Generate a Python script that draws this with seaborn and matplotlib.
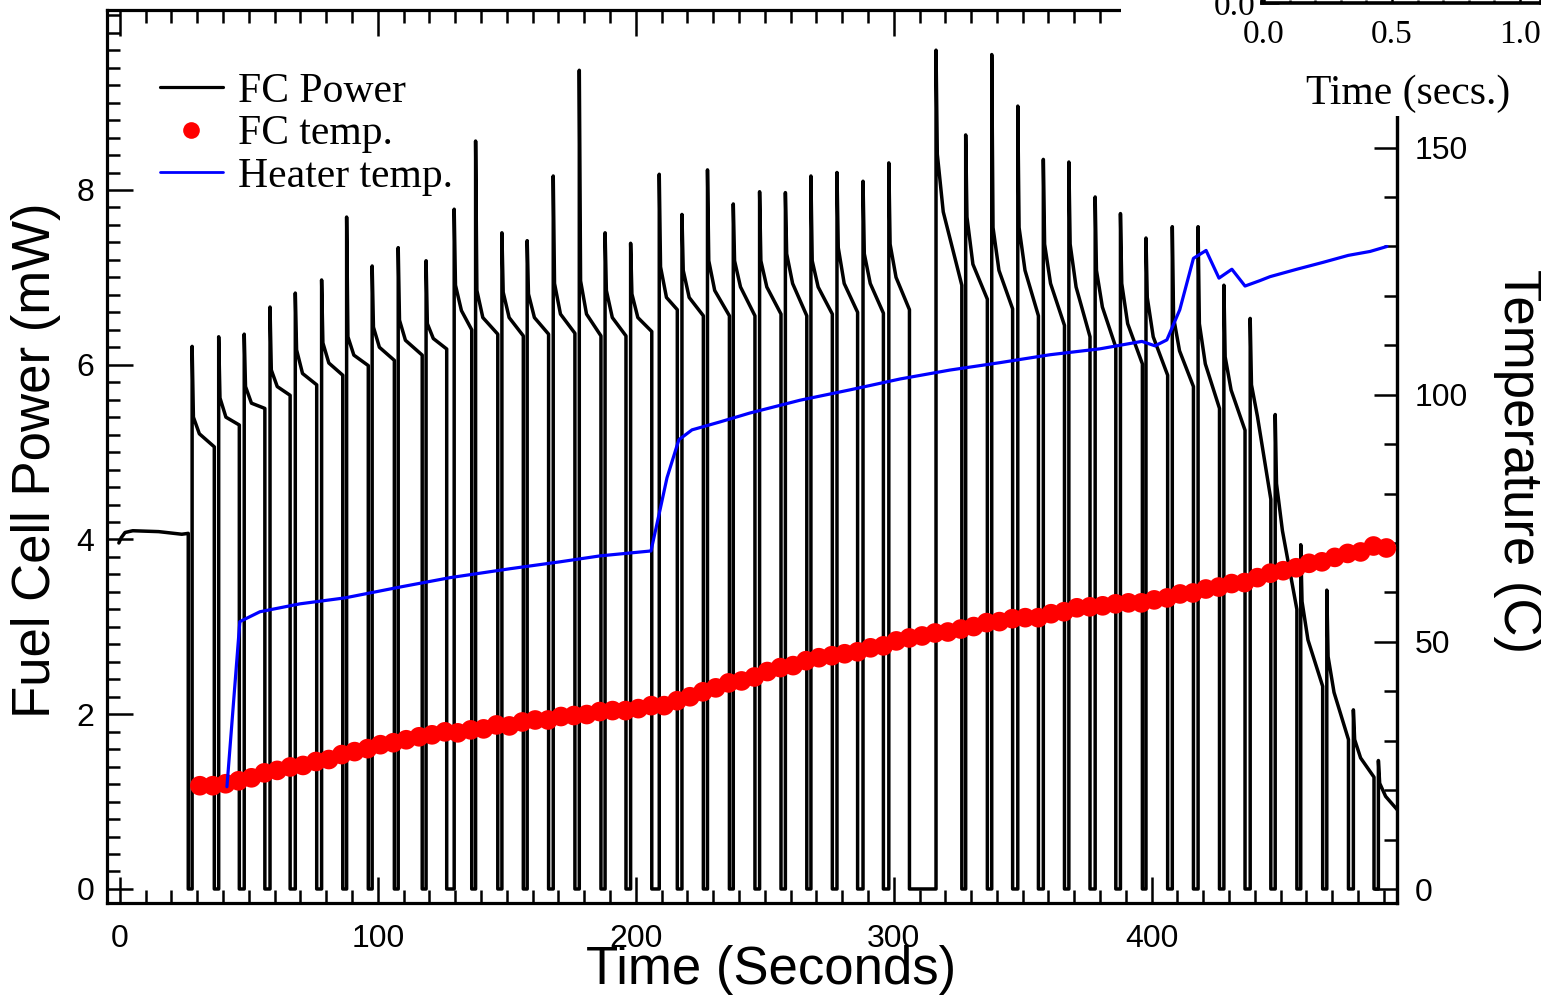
import numpy as np
import pandas as pd
import matplotlib
matplotlib.use("Agg")
import matplotlib.pyplot as plt
import seaborn as sns
from matplotlib.lines import Line2D
from matplotlib.patches import Rectangle
from matplotlib.ticker import MultipleLocator, FixedLocator, FormatStrFormatter

# ---------------- data ----------------
# initial steady segment of fuel-cell power
init_t = [-0.4, 0.5, 2.0, 5.0, 15.0, 24.0, 26.4]
init_p = [3.96, 4.02, 4.08, 4.10, 4.09, 4.06, 4.07]
init_off = 26.5

# pulses: switch-on time, switch-off time, and power read at peak, shortly after, ~3 s and at switch-off
pulse_on = [28.0, 38.3, 48.2, 58.2, 68.0, 78.2, 87.9, 97.8, 107.9, 118.7,
            129.6, 137.9, 148.1, 157.9, 168.0, 178.1, 188.1, 198.0, 209.1, 217.9,
            227.8, 237.8, 248.0, 258.0, 267.9, 278.0, 288.1, 298.1, 316.4, 327.9,
            338.0, 348.1, 358.0, 367.9, 378.1, 387.9, 397.8, 408.0, 418.0, 428.0,
            438.2, 447.9, 457.8, 467.9, 478.2, 487.9]
pulse_off = [36.6, 46.3, 56.2, 66.0, 76.3, 86.4, 96.3, 106.4, 117.2, 126.7,
             136.4, 146.5, 156.4, 166.2, 176.4, 186.5, 196.2, 206.2, 216.1, 226.2,
             236.3, 246.2, 256.3, 266.3, 276.2, 286.0, 296.0, 306.1, 326.4, 336.3,
             346.1, 356.1, 366.2, 376.1, 386.1, 396.4, 406.2, 416.2, 426.3, 436.2,
             446.2, 456.3, 466.3, 476.3, 486.2, 496.0]
pulse_peak = [6.21, 6.32, 6.35, 6.66, 6.82, 6.97, 7.69, 7.13, 7.34, 7.19,
              7.78, 8.56, 7.51, 7.42, 8.16, 9.37, 7.51, 7.39, 8.18, 7.72,
              8.23, 7.84, 7.98, 7.97, 8.16, 8.20, 8.10, 8.31, 9.60, 8.63,
              9.55, 8.96, 8.35, 8.32, 7.92, 7.73, 7.45, 7.58, 7.58, 6.91,
              6.53, 5.43, 3.94, 3.42, 2.05, 1.47]
pulse_knee = [5.40, 5.62, 5.75, 5.94, 6.17, 6.25, 6.32, 6.43, 6.51, 6.47,
              6.91, 6.85, 6.83, 6.81, 6.93, 6.96, 6.85, 6.81, 7.12, 7.08,
              7.19, 7.19, 7.19, 7.27, 7.19, 7.34, 7.27, 7.38, 8.41, 7.69,
              7.57, 7.57, 7.38, 7.38, 7.08, 6.93, 6.77, 6.54, 6.47, 6.09,
              5.77, 4.64, 3.29, 2.66, 1.71, 1.21]
pulse_mid = [5.21, 5.40, 5.56, 5.75, 5.90, 6.02, 6.11, 6.20, 6.28, 6.30,
             6.62, 6.54, 6.54, 6.54, 6.58, 6.58, 6.54, 6.54, 6.77, 6.77,
             6.85, 6.89, 6.89, 6.93, 6.89, 6.93, 6.93, 7.00, 7.75, 7.15,
             7.08, 7.08, 6.93, 6.89, 6.66, 6.47, 6.32, 6.16, 6.01, 5.71,
             5.41, 4.10, 2.85, 2.25, 1.50, 1.06]
pulse_end = [5.06, 5.31, 5.50, 5.65, 5.77, 5.88, 5.99, 6.05, 6.11, 6.18,
             6.40, 6.35, 6.33, 6.35, 6.36, 6.33, 6.33, 6.38, 6.63, 6.56,
             6.56, 6.56, 6.58, 6.56, 6.58, 6.60, 6.59, 6.63, 6.91, 6.75,
             6.64, 6.56, 6.45, 6.32, 6.20, 6.01, 5.88, 5.75, 5.50, 5.25,
             4.46, 3.20, 2.32, 1.71, 1.28, 0.88]
knee_dt = 0.5
mid_dt = 2.8

# fuel cell temperature (red dots), sampled every 5 s
fc_temp_t = np.arange(31, 492, 5)
fc_temp = [20.9, 20.9, 21.3, 21.9, 22.5, 23.5, 24.0, 24.7, 25.0, 25.8,
           26.2, 27.2, 27.8, 28.4, 29.2, 29.6, 30.2, 30.8, 31.2, 31.8,
           31.6, 32.2, 32.4, 33.2, 33.0, 33.8, 34.2, 34.2, 34.9, 35.1,
           35.3, 35.9, 36.1, 36.1, 36.5, 37.1, 37.1, 38.1, 38.9, 39.9,
           40.7, 41.7, 42.1, 42.9, 44.0, 44.8, 45.2, 46.2, 46.8, 47.2,
           47.6, 48.0, 48.8, 49.2, 50.2, 50.8, 51.2, 51.8, 52.0, 52.6,
           53.1, 53.9, 54.1, 54.7, 54.9, 54.9, 55.7, 56.1, 56.9, 57.1,
           57.3, 57.7, 57.9, 57.9, 58.5, 58.9, 59.7, 59.9, 60.7, 61.1,
           61.8, 62.0, 63.0, 63.9, 64.4, 65.0, 65.9, 66.2, 67.1, 67.9,
           68.2, 69.4, 69.0]

# heater temperature (blue line)
heater_t = [41.5, 46.5, 54.3, 69.8, 87.2, 108.6, 128.0, 151.2, 170.6, 186.1,
            205.9, 209.4, 212.1, 216.7, 221.8, 232.6, 244.2, 263.7, 283.1, 302.5,
            321.8, 341.2, 360.6, 380.0, 396.2, 401.3, 405.9, 410.9, 416.2, 421.1,
            426.1, 431.1, 436.2, 442.0, 445.9, 456.3, 466.5, 476.2, 484.7, 491.2]
heater_T = [20.7, 54.1, 56.1, 57.7, 58.9, 61.1, 63.0, 64.8, 66.2, 67.4,
            68.4, 76.7, 83.2, 90.9, 92.9, 94.5, 96.3, 98.9, 101.0, 103.2,
            105.0, 106.5, 108.1, 109.3, 110.8, 109.9, 111.1, 117.2, 127.6, 129.2,
            123.6, 125.4, 122.0, 123.1, 123.9, 125.4, 126.8, 128.2, 129.0, 130.0]

power_ticks = [0, 2, 4, 6, 8]
temp_ticks = [0, 50, 100, 150]
inset_ticks = [0.0, 0.5, 1.0]
legend_labels = ["FC Power", "FC temp.", "Heater temp."]

# ---------------- build the power trace ----------------
t_list = list(init_t) + [init_off, init_off]
p_list = list(init_p) + [init_p[-1], 0.0]
for on, off, pk, kn, md, en in zip(pulse_on, pulse_off, pulse_peak,
                                   pulse_knee, pulse_mid, pulse_end):
    t_list += [on, on, on + knee_dt, on + mid_dt, off, off]
    p_list += [0.0, pk, kn, md, en, 0.0]
power_df = pd.DataFrame({"t": t_list, "p": p_list})
temp_df = pd.DataFrame({"t": fc_temp_t, "T": fc_temp})
heat_df = pd.DataFrame({"t": heater_t, "T": heater_T})

# ---------------- figure ----------------
sns.set_style("ticks")
plt.rcParams["font.family"] = ["Liberation Sans", "DejaVu Sans"]
for k in ["text.color", "axes.labelcolor", "xtick.color", "ytick.color",
          "axes.edgecolor"]:
    plt.rcParams[k] = "black"
SERIF = ["Liberation Serif", "DejaVu Serif"]

W, H = 1541, 999
fig = plt.figure(figsize=(W / 100, H / 100), dpi=100)
L, R, T, B = 107, 1396.7, 10, 903.3
ax = fig.add_axes([L / W, 1 - B / H, (R - L) / W, (B - T) / H])

sns.lineplot(data=power_df, x="t", y="p", sort=False, estimator=None,
             color="black", lw=2.5, ax=ax, legend=False)
ax.set_xlim(-5.0, 495.0)
ax.set_ylim(-0.164, 10.06)

ax.xaxis.set_major_locator(MultipleLocator(100))
ax.xaxis.set_minor_locator(MultipleLocator(10))
ax.yaxis.set_major_locator(FixedLocator(power_ticks))
ax.yaxis.set_minor_locator(MultipleLocator(0.2))
ax.xaxis.set_major_formatter(FormatStrFormatter("%d"))
ax.yaxis.set_major_formatter(FormatStrFormatter("%d"))
ax.tick_params(which="both", direction="in", width=1.8, top=True, right=False,
               colors="black")
ax.tick_params(which="major", length=18.5, labelsize=23)
ax.tick_params(which="minor", length=9.4)
ax.tick_params(axis="x", pad=15)
ax.tick_params(axis="y", pad=9)
for s in ax.spines.values():
    s.set_linewidth(2.3)
    s.set_color("black")

ax.set_xlabel("Time (Seconds)", fontsize=38, va="center", ha="center")
ax.xaxis.set_label_coords(771 / W, 1 - 970 / H, transform=fig.transFigure)
ax.set_ylabel("Fuel Cell Power (mW)", fontsize=38, va="center", ha="center")
ax.yaxis.set_label_coords(36 / W, 1 - 460 / H, transform=fig.transFigure)

# temperature axis
ax2 = ax.twinx()
sns.scatterplot(data=temp_df, x="t", y="T", color="red", s=200,
                edgecolor="none", ax=ax2, legend=False, zorder=3)
sns.lineplot(data=heat_df, x="t", y="T", sort=False, estimator=None,
             color="blue", lw=2.3, ax=ax2, legend=False, zorder=4)
ax2.set_ylim(-2.89, 177.85)
ax2.set_xlim(-5.0, 495.0)
ax2.yaxis.set_major_locator(FixedLocator(temp_ticks))
ax2.yaxis.set_minor_locator(MultipleLocator(10))
ax2.yaxis.set_major_formatter(FormatStrFormatter("%d"))
ax2.tick_params(which="both", direction="in", width=1.8, left=False, right=True,
                top=False, bottom=False, colors="black")
ax2.tick_params(which="major", length=16.6, labelsize=23, pad=13)
ax2.tick_params(which="minor", length=9.4)
for k in ["left", "top", "bottom"]:
    ax2.spines[k].set_visible(False)
ax2.spines["right"].set_linewidth(2.3)
ax2.spines["right"].set_color("black")
ax2.set_ylabel("Temperature (C)", fontsize=38, rotation=270, va="center", ha="center")
ax2.yaxis.set_label_coords(1518 / W, 1 - 461 / H, transform=fig.transFigure)

# legend
handles = [Line2D([], [], color="black", lw=2.3),
           Line2D([], [], color="red", marker="o", ls="none", markersize=12,
                  markeredgecolor="none"),
           Line2D([], [], color="blue", lw=2.0)]
leg = ax2.legend(handles, legend_labels, loc="upper left",
                 bbox_to_anchor=(160 / W, 1 - 72 / H), bbox_transform=fig.transFigure,
                 frameon=False, borderpad=0, borderaxespad=0, handlelength=1.5,
                 handletextpad=0.38, labelspacing=0.1,
                 prop={"family": SERIF, "size": 30})
for txt in leg.get_texts():
    txt.set_color("black")

# white cover + partial inset at top right
fig.add_artist(Rectangle((1121 / W, 1 - 116 / H), (W - 1121) / W, 116 / H,
                         transform=fig.transFigure, facecolor="white",
                         edgecolor="none", zorder=5))
ins = fig.add_axes([1262 / W, 1 - 3 / H, (W - 1262) / W, 0.08])
ins.set_zorder(10)
ins.set_facecolor("white")
ins.set_xlim(-0.008, 1.082)
ins.set_ylim(0, 1)
ins.xaxis.set_major_locator(FixedLocator(inset_ticks))
ins.xaxis.set_minor_locator(MultipleLocator(0.1))
ins.xaxis.set_major_formatter(FormatStrFormatter("%.1f"))
ins.set_yticks([0])
ins.set_yticklabels(["0.0"])
ins.tick_params(which="both", direction="in", width=1.8, colors="black")
ins.tick_params(which="major", length=12, labelsize=24)
ins.tick_params(axis="x", pad=12)
ins.tick_params(axis="y", pad=5)
for lab in ins.get_xticklabels() + ins.get_yticklabels():
    lab.set_family(SERIF)
for s in ins.spines.values():
    s.set_linewidth(2.6)
    s.set_color("black")
ins.set_xlabel("Time (secs.)", fontsize=30, family=SERIF, va="center", ha="center")
ins.xaxis.set_label_coords(1408 / W, 1 - 94 / H, transform=fig.transFigure)

fig.savefig("out.png", dpi=100)
